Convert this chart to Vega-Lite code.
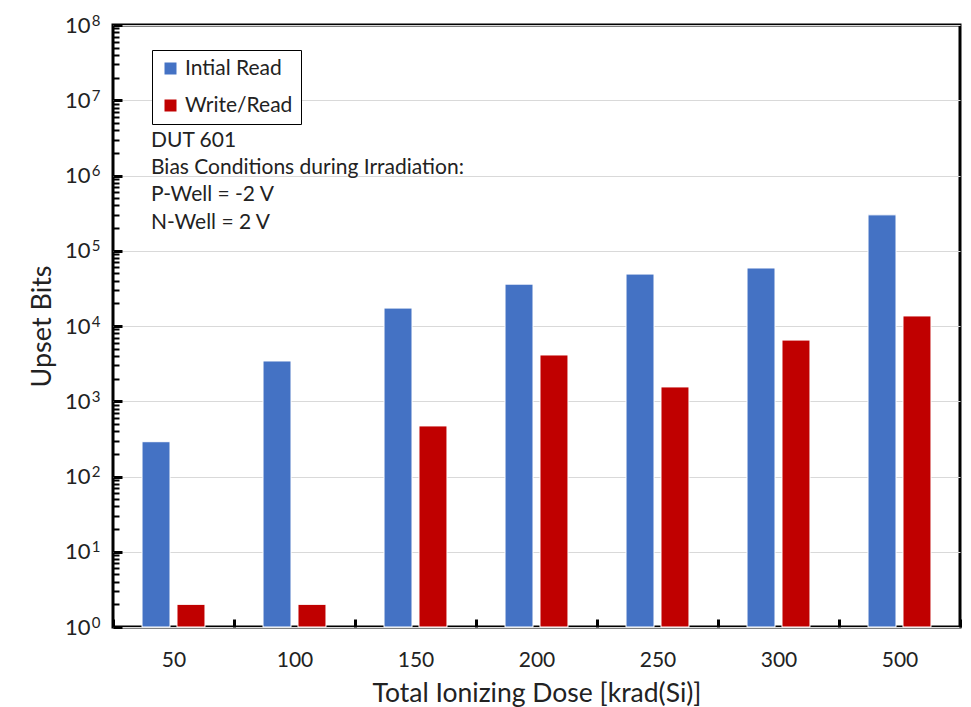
{
  "$schema": "https://vega.github.io/schema/vega-lite/v6.json",
  "width": 847,
  "height": 602,
  "autosize": {"type": "none"},
  "padding": {"left": 113, "top": 25, "right": 11, "bottom": 80},
  "background": "white",
  "config": {
    "font": "Lato",
    "view": {"stroke": "black", "strokeWidth": 3},
    "axis": {"labelFont": "Lato", "titleFont": "Lato", "labelColor": "#222", "titleColor": "#222", "titleFontWeight": "normal", "domain": false, "tickColor": "black"}
  },
  "resolve": {"scale": {"y": "shared"}, "axis": {"y": "independent"}},
  "layer": [
    {
      "data": {"values": [
        {"dose": "50", "series": "Intial Read", "bits": 290},
        {"dose": "50", "series": "Write/Read", "bits": 2},
        {"dose": "100", "series": "Intial Read", "bits": 3430},
        {"dose": "100", "series": "Write/Read", "bits": 2},
        {"dose": "150", "series": "Intial Read", "bits": 17300},
        {"dose": "150", "series": "Write/Read", "bits": 470},
        {"dose": "200", "series": "Intial Read", "bits": 36000},
        {"dose": "200", "series": "Write/Read", "bits": 4120},
        {"dose": "250", "series": "Intial Read", "bits": 49000},
        {"dose": "250", "series": "Write/Read", "bits": 1550},
        {"dose": "300", "series": "Intial Read", "bits": 59000},
        {"dose": "300", "series": "Write/Read", "bits": 6500},
        {"dose": "500", "series": "Intial Read", "bits": 300000},
        {"dose": "500", "series": "Write/Read", "bits": 13600}
      ]},
      "mark": {"type": "bar", "stroke": "white", "strokeWidth": 1},
      "encoding": {
        "x": {
          "field": "dose", "type": "nominal", "sort": null,
          "scale": {"domain": ["50", "100", "150", "200", "250", "300", "500"], "paddingInner": 0, "paddingOuter": 0},
          "axis": {"title": "Total Ionizing Dose [krad(Si)]", "labelAngle": 0, "labelFontSize": 21, "titleFontSize": 26.5, "tickBand": "extent", "tickSize": -8, "tickWidth": 3, "labelPadding": 30, "titlePadding": 10, "grid": false}
        },
        "xOffset": {"field": "series", "type": "nominal", "sort": ["Intial Read", "Write/Read"], "scale": {"paddingInner": 0.2, "paddingOuter": 0.83}},
        "y": {
          "field": "bits", "type": "quantitative", "stack": null,
          "scale": {"type": "log", "domain": [1, 100000000], "nice": false},
          "axis": {
            "orient": "left",
            "title": "Upset Bits", "titleFontSize": 27, "titlePadding": 8,
            "values": [1,2,3,4,5,6,7,8,9,10,20,30,40,50,60,70,80,90,100,200,300,400,500,600,700,800,900,1000,2000,3000,4000,5000,6000,7000,8000,9000,10000,20000,30000,40000,50000,60000,70000,80000,90000,100000,200000,300000,400000,500000,600000,700000,800000,900000,1000000,2000000,3000000,4000000,5000000,6000000,7000000,8000000,9000000,10000000,20000000,30000000,40000000,50000000,60000000,70000000,80000000,90000000,100000000],
            "labelExpr": "abs(log(datum.value)/LN10 - round(log(datum.value)/LN10)) < 0.000001 ? '10' : ''",
            "labelFontSize": 22, "labelOverlap": false, "labelPadding": 32,
            "tickSize": {"condition": {"test": "abs(log(datum.value)/LN10 - round(log(datum.value)/LN10)) < 0.000001", "value": -9}, "value": -6},
            "tickWidth": {"condition": {"test": "abs(log(datum.value)/LN10 - round(log(datum.value)/LN10)) < 0.000001", "value": 3}, "value": 2},
            "grid": true,
            "gridColor": {"condition": {"test": "abs(log(datum.value)/LN10 - round(log(datum.value)/LN10)) < 0.000001", "value": "#d9d9d9"}, "value": "transparent"}
          }
        },
        "color": {
          "field": "series", "type": "nominal",
          "scale": {"domain": ["Intial Read", "Write/Read"], "range": ["#4472C4", "#C00000"]},
          "legend": {
            "title": null, "orient": "none", "legendX": 39, "legendY": 25,
            "symbolType": "square", "symbolSize": 144, "symbolStrokeWidth": 0,
            "labelFont": "Lato", "labelFontSize": 21, "labelColor": "#222",
            "rowPadding": 15, "padding": 8,
            "strokeColor": "black", "fillColor": "white", "cornerRadius": 0,
            "encode": {"legend": {"update": {"strokeWidth": {"value": 2}}}}
          }
        }
      }
    },
    {
      "data": {"values": [{"note": "DUT 601\nBias Conditions during Irradiation:\nP-Well = -2 V\nN-Well = 2 V"}]},
      "mark": {"type": "text", "align": "left", "baseline": "alphabetic", "fontSize": 21, "font": "Lato", "color": "#222", "lineBreak": "\n", "lineHeight": 27.3, "dx": 38},
      "encoding": {
        "x": {"datum": "50", "type": "nominal", "bandPosition": 0},
        "y": {
          "datum": 2400000, "type": "quantitative",
          "axis": {
            "orient": "left", "title": null, "grid": false, "ticks": false,
            "values": [1,10,100,1000,10000,100000,1000000,10000000,100000000],
            "labelExpr": "'' + round(log(datum.value)/LN10)",
            "labelFontSize": 15, "labelOverlap": false, "labelPadding": 13, "labelOffset": -5, "labelFont": "Lato"
          }
        },
        "text": {"field": "note"}
      }
    }
  ]
}
